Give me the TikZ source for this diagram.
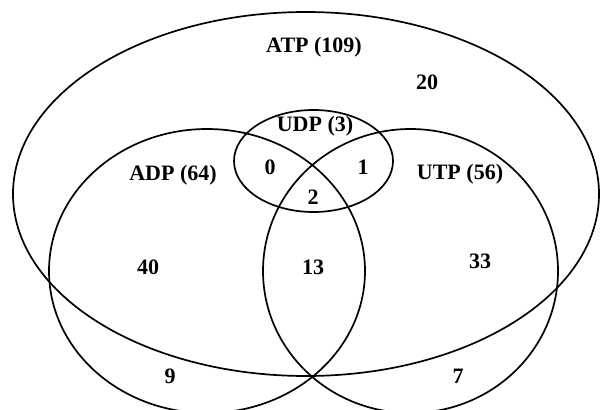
\documentclass[tikz,border=0pt]{standalone}
\usepackage{fontspec}
\setmainfont{Liberation Serif}
\begin{document}
\begin{tikzpicture}[x=1pt, y=-1pt,
  set/.style={line width=1.7pt, black},
  lbl/.style={font=\fontsize{22}{26}\selectfont\bfseries, inner sep=0pt}]
  \useasboundingbox (0,0) rectangle (601,409);
  % sets
  \draw[set] (306,194) ellipse [x radius=293, y radius=182];   % ATP
  \draw[set] (207,271) ellipse [x radius=158, y radius=142];   % ADP
  \draw[set] (410.5,271) ellipse [x radius=147.5, y radius=142]; % UTP
  \draw[set] (313.5,161) ellipse [x radius=79.5, y radius=51];  % UDP
  % set names
  \node[lbl] (atp) at (314,47) {ATP (109)};
  \node[lbl] (udp) at (315,126) {UDP (3)};
  \node[lbl] (adp) at (173,175) {ADP (64)};
  \node[lbl] (utp) at (460,174) {UTP (56)};
  % region counts
  \node[lbl] (n20) at (427,82) {20};
  \node[lbl] (n0) at (270,167) {0};
  \node[lbl] (n1) at (363,167) {1};
  \node[lbl] (n2) at (313,197) {2};
  \node[lbl] (n40) at (148,267) {40};
  \node[lbl] (n13) at (313,267) {13};
  \node[lbl] (n33) at (480,261) {33};
  \node[lbl] (n9) at (170,376) {9};
  \node[lbl] (n7) at (458,376) {7};
\end{tikzpicture}
\end{document}
